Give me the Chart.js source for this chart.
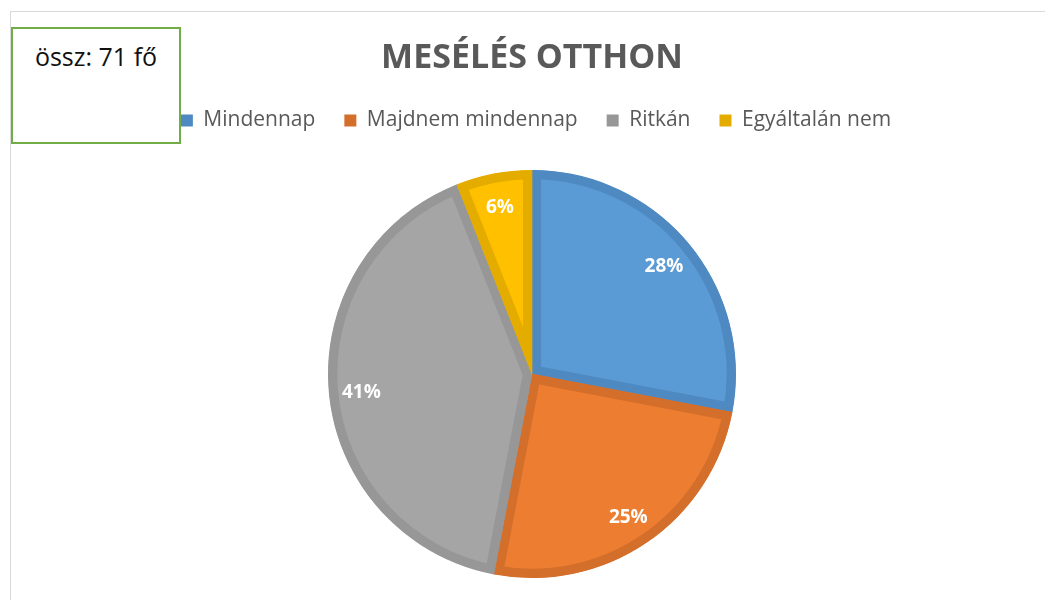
<!DOCTYPE html>
<html>
<head>
<meta charset="utf-8">
<script src="https://cdn.jsdelivr.net/npm/chart.js@4/dist/chart.umd.min.js"></script>
<style>
  body { margin: 0; background: #fff; overflow: hidden; }
  #wrap { position: relative; width: 1045px; height: 600px; }
  #frame { position: absolute; left: 10px; top: 11px; width: 1100px; height: 700px; border: 1px solid #d9d9d9; }
  #sum { position: absolute; left: 11px; top: 27px; width: 170px; height: 117px; border: 2px solid #70ad47;
         box-sizing: border-box; background: #fff; font-family: "Open Sans", sans-serif; font-size: 25px;
         color: #111; text-align: center; line-height: 32px; padding-top: 11px; }
  canvas { position: absolute; left: 0; top: 0; }
</style>
</head>
<body>
<div id="wrap">
  <div id="frame"></div>
  <canvas id="pie" width="1045" height="600"></canvas>
  <div id="sum">össz: 71 fő</div>
</div>
<script>
// values (percent)
const categories = ['Mindennap', 'Majdnem mindennap', 'Ritkán', 'Egyáltalán nem'];
const percents = [28, 25, 41, 6];
const fillColors = ['#5b9bd5', '#ed7d31', '#a5a5a5', '#ffc000'];
const edgeColors = ['#4e89c2', '#d36e2b', '#979797', '#e5ac00'];

// white % labels placed towards the rim
const sliceLabels = {
    id: 'sliceLabels',
    afterDatasetsDraw(chart) {
        const ctx = chart.ctx;
        const meta = chart.getDatasetMeta(0);
        ctx.save();
        ctx.fillStyle = '#ffffff';
        ctx.font = 'bold 19px "Open Sans", sans-serif';
        ctx.textAlign = 'center';
        ctx.textBaseline = 'middle';
        meta.data.forEach(function(arc, i) {
            const p = arc.getProps(['x', 'y', 'startAngle', 'endAngle', 'outerRadius'], true);
            const mid = (p.startAngle + p.endAngle) / 2;
            const r = p.outerRadius * 0.84;
            ctx.fillText(percents[i] + '%', p.x + Math.cos(mid) * r, p.y + Math.sin(mid) * r + 2);
        });
        ctx.restore();
    }
};

// a bit more room under the legend, and nudge it right
const legendTweak = {
    id: 'legendTweak',
    beforeInit(chart) {
        const fit = chart.legend.fit;
        chart.legend.fit = function() {
            fit.call(this);
            this.height += 7;
        };
    },
    afterLayout(chart) {
        chart.legend.left += 4;
        chart.legend.right += 4;
    }
};

const ctx = document.getElementById('pie').getContext('2d');
new Chart(ctx, {
    type: 'pie',
    data: {
        labels: categories,
        datasets: [{
            data: percents,
            backgroundColor: fillColors,
            borderColor: edgeColors,
            borderWidth: 9,
            borderAlign: 'inner',
            borderJoinStyle: 'miter',
            hoverOffset: 0,
            radius: 204
        }]
    },
    options: {
        responsive: false,
        animation: false,
        events: [],
        layout: { padding: { left: 19, right: 0, top: 0, bottom: 0 } },
        plugins: {
            title: {
                display: true,
                text: 'MESÉLÉS OTTHON',
                color: '#595959',
                font: { family: '"Open Sans", sans-serif', size: 34, weight: 'bold', lineHeight: 1 },
                padding: { top: 41, bottom: 6 }
            },
            legend: {
                position: 'top',
                labels: {
                    boxWidth: 12,
                    boxHeight: 12,
                    padding: 29,
                    color: '#595959',
                    font: { family: '"Open Sans", sans-serif', size: 21 },
                    generateLabels: function() {
                        return categories.map(function(c, i) {
                            return { text: c, fillStyle: edgeColors[i], strokeStyle: edgeColors[i], lineWidth: 0, index: i, fontColor: '#595959' };
                        });
                    }
                }
            },
            tooltip: { enabled: false }
        }
    },
    plugins: [sliceLabels, legendTweak]
});
</script>
</body>
</html>
